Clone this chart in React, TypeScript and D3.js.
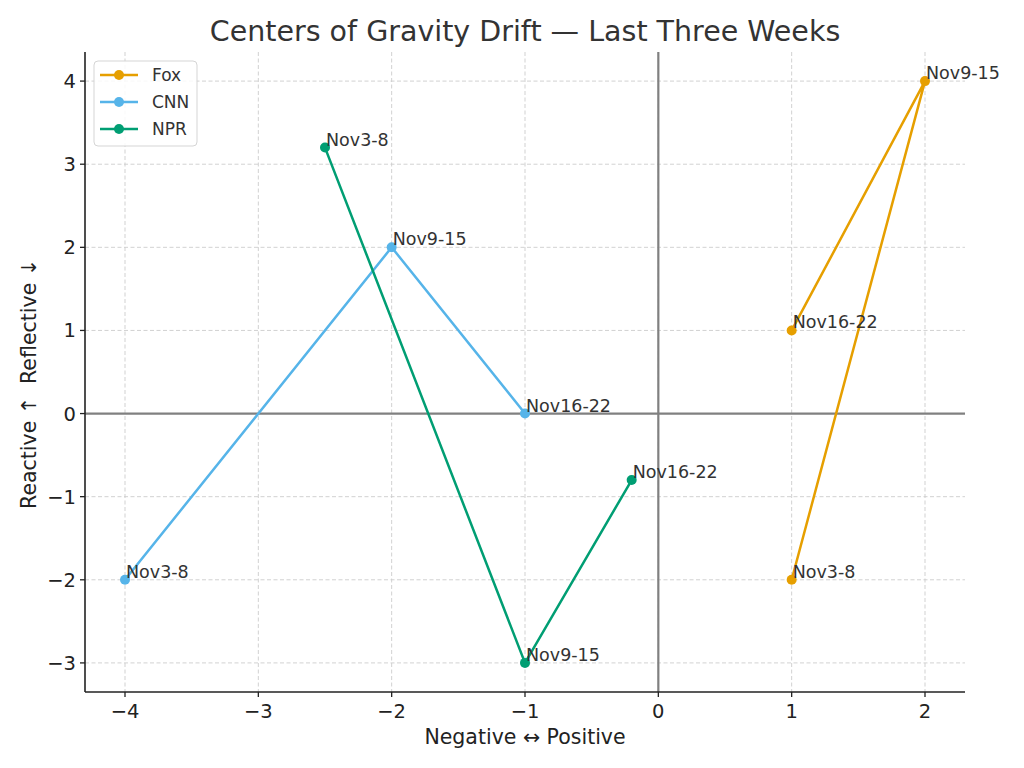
import React from "react";
import * as d3 from "d3";

const weeks = ["Nov3-8", "Nov9-15", "Nov16-22"];
const seriesNames = ["Fox", "CNN", "NPR"];
const seriesColors = ["#E69F00", "#56B4E9", "#009E73"];
const foxX = [1, 2, 1];
const foxY = [-2, 4, 1];
const cnnX = [-4, -2, -1];
const cnnY = [-2, 2, 0];
const nprX = [-2.5, -1, -0.2];
const nprY = [3.2, -3, -0.8];
const xTicks = [-4, -3, -2, -1, 0, 1, 2];
const yTicks = [-3, -2, -1, 0, 1, 2, 3, 4];

const W = 1024, H = 768;
const L = 85, R = 965, T = 52, B = 692;
const FONT = "DejaVu Sans, sans-serif";

export default function App() {
  const x = d3.scaleLinear().domain([-4.3, 2.3]).range([L, R]);
  const y = d3.scaleLinear().domain([-3.35, 4.35]).range([B, T]);
  const series = [
    { name: seriesNames[0], color: seriesColors[0], xs: foxX, ys: foxY },
    { name: seriesNames[1], color: seriesColors[1], xs: cnnX, ys: cnnY },
    { name: seriesNames[2], color: seriesColors[2], xs: nprX, ys: nprY },
  ];
  const line = d3.line<[number, number]>().x(d => x(d[0])).y(d => y(d[1]));
  const fmt = (v: number) => (v < 0 ? "\u2212" + Math.abs(v) : String(v));

  return (
    <svg width={W} height={H} style={{ position: "absolute", left: 0, top: 0, background: "#fff" }} fontFamily={FONT}>
      <rect width={W} height={H} fill="#fff" />
      {xTicks.map(t => (
        <line key={"gx" + t} x1={x(t)} x2={x(t)} y1={T} y2={B} stroke="#cccccc" strokeWidth={0.9} strokeDasharray="4,2.5" />
      ))}
      {yTicks.map(t => (
        <line key={"gy" + t} x1={L} x2={R} y1={y(t)} y2={y(t)} stroke="#cccccc" strokeWidth={0.9} strokeDasharray="4,2.5" />
      ))}
      <line x1={x(0)} x2={x(0)} y1={T} y2={B} stroke="#808080" strokeWidth={2.2} />
      <line x1={L} x2={R} y1={y(0)} y2={y(0)} stroke="#808080" strokeWidth={2.2} />
      {series.map(s => {
        const pts: [number, number][] = s.xs.map((v, i) => [v, s.ys[i]]);
        return (
          <g key={s.name}>
            <path d={line(pts) || ""} fill="none" stroke={s.color} strokeWidth={2.5} />
            {pts.map((p, i) => (
              <circle key={i} cx={x(p[0])} cy={y(p[1])} r={5} fill={s.color} />
            ))}
            {pts.map((p, i) => (
              <text key={"t" + i} x={x(p[0]) + 1} y={y(p[1]) - 2} fontSize={17.5} fill="#333">
                {weeks[i]}
              </text>
            ))}
          </g>
        );
      })}
      <line x1={L} x2={L} y1={T} y2={B} stroke="#222" strokeWidth={1.6} />
      <line x1={L} x2={R} y1={B} y2={B} stroke="#222" strokeWidth={1.6} />
      {xTicks.map(t => (
        <g key={"xt" + t}>
          <line x1={x(t)} x2={x(t)} y1={B} y2={B + 5} stroke="#222" strokeWidth={1.3} />
          <text x={x(t)} y={B + 26} fontSize={19.5} textAnchor="middle" fill="#222">{fmt(t)}</text>
        </g>
      ))}
      {yTicks.map(t => (
        <g key={"yt" + t}>
          <line x1={L - 5} x2={L} y1={y(t)} y2={y(t)} stroke="#222" strokeWidth={1.3} />
          <text x={L - 9} y={y(t) + 7} fontSize={19.5} textAnchor="end" fill="#222">{fmt(t)}</text>
        </g>
      ))}
      <text x={(L + R) / 2} y={41} fontSize={28.5} textAnchor="middle" fill="#333">
        Centers of Gravity Drift — Last Three Weeks
      </text>
      <text x={(L + R) / 2} y={744} fontSize={20.5} textAnchor="middle" fill="#222">
        Negative ↔ Positive
      </text>
      <text transform={`translate(36,${(T + B) / 2 + 12}) rotate(-90)`} fontSize={20.5} textAnchor="middle" fill="#222" style={{ whiteSpace: "pre" }}>
        {"Reactive ↑  Reflective ↓"}
      </text>
      <g>
        <rect x={94} y={61} width={103} height={85} rx={4} fill="#fff" fillOpacity={0.85} stroke="#d5d5d5" />
        {series.map((s, i) => (
          <g key={"lg" + i} transform={`translate(0,${75 + i * 27})`}>
            <line x1={100} x2={138} y1={0} y2={0} stroke={s.color} strokeWidth={2.5} />
            <circle cx={119} cy={0} r={5} fill={s.color} />
            <text x={152} y={6} fontSize={17} fill="#333">{s.name}</text>
          </g>
        ))}
      </g>
    </svg>
  );
}
